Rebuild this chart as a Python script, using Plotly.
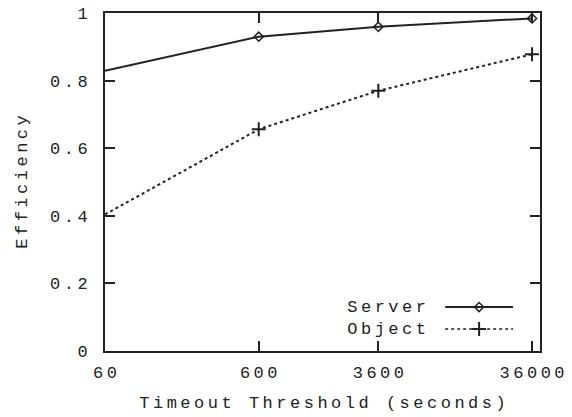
import plotly.graph_objects as go
import math

# Data
timeouts = [60, 600, 3600, 36000]
tick_labels = ["60", "600", "3600", "36000"]
server_eff = [0.829, 0.930, 0.959, 0.984]
object_eff = [0.404, 0.656, 0.770, 0.878]
y_ticks = [0, 0.2, 0.4, 0.6, 0.8, 1]
y_tick_labels = ["0", "0.2", "0.4", "0.6", "0.8", "1"]
series_names = ["Server", "Object"]

FONT = "Liberation Mono"
FS = 17
INK = "#222222"
SPACING = 3.5  # px letter spacing, to mimic the wide pixel font

fig = go.Figure()
fig.add_trace(go.Scatter(
    x=timeouts, y=server_eff, mode="lines+markers", name=series_names[0],
    line=dict(color=INK, width=2),
    marker=dict(symbol="diamond-open", size=7, color=INK, line=dict(width=1.5, color=INK)),
    showlegend=False, cliponaxis=False))
fig.add_trace(go.Scatter(
    x=timeouts, y=object_eff, mode="lines+markers", name=series_names[1],
    line=dict(color=INK, width=2, dash="dot"),
    marker=dict(symbol="cross-thin", size=10, color=INK, line=dict(width=2, color=INK)),
    showlegend=False, cliponaxis=False))

# Legend samples (drawn on an overlay axis in plot-fraction coordinates)
leg_x = [0.782, 0.86, 0.938]
fig.add_trace(go.Scatter(
    x=leg_x, y=[0.130] * 3, xaxis="x2", yaxis="y2", mode="lines",
    line=dict(color=INK, width=2), showlegend=False, hoverinfo="skip"))
fig.add_trace(go.Scatter(
    x=[leg_x[1]], y=[0.130], xaxis="x2", yaxis="y2", mode="markers",
    marker=dict(symbol="diamond-open", size=7, color=INK, line=dict(width=1.5, color=INK)),
    showlegend=False, hoverinfo="skip"))
fig.add_trace(go.Scatter(
    x=leg_x, y=[0.065] * 3, xaxis="x2", yaxis="y2", mode="lines",
    line=dict(color=INK, width=1.5, dash="dot"), showlegend=False, hoverinfo="skip"))
fig.add_trace(go.Scatter(
    x=[leg_x[1]], y=[0.065], xaxis="x2", yaxis="y2", mode="markers",
    marker=dict(symbol="cross-thin", size=10, color=INK, line=dict(width=2, color=INK)),
    showlegend=False, hoverinfo="skip"))

fig.add_annotation(x=0.722, y=0.130, xref="x2", yref="y2", text=series_names[0],
                   showarrow=False, xanchor="right", yanchor="middle",
                   font=dict(family=FONT, size=FS, color=INK))
fig.add_annotation(x=0.722, y=0.065, xref="x2", yref="y2", text=series_names[1],
                   showarrow=False, xanchor="right", yanchor="middle",
                   font=dict(family=FONT, size=FS, color=INK))

fig.update_layout(
    width=572, height=417,
    margin=dict(l=105, r=32, t=13, b=66),
    paper_bgcolor="white", plot_bgcolor="white",
    font=dict(family=FONT, size=FS, color=INK),
    xaxis=dict(
        type="log", range=[math.log10(60), 4.608],
        tickvals=timeouts, ticktext=tick_labels,
        ticks="inside", ticklen=10, tickwidth=2, tickcolor=INK,
        showline=True, linewidth=2, linecolor=INK, mirror="ticks",
        showgrid=False, zeroline=False, automargin=False,
        ticklabelstandoff=5,
        title=dict(text="Timeout Threshold (seconds)", standoff=14,
                   font=dict(family=FONT, size=FS, color=INK)),
        tickfont=dict(family=FONT, size=FS, color=INK),
    ),
    yaxis=dict(
        range=[0, 1], tickvals=y_ticks, ticktext=y_tick_labels,
        ticks="inside", ticklen=10, tickwidth=2, tickcolor=INK,
        showline=True, linewidth=2, linecolor=INK, mirror="ticks",
        showgrid=False, zeroline=False, automargin=False,
        ticklabelstandoff=12,
        title=dict(text="Efficiency", standoff=25,
                   font=dict(family=FONT, size=FS, color=INK)),
        tickfont=dict(family=FONT, size=FS, color=INK),
    ),
    xaxis2=dict(overlaying="x", range=[0, 1], visible=False, fixedrange=True),
    yaxis2=dict(overlaying="y", range=[0, 1], visible=False, fixedrange=True),
)

post = """
var gd = document.getElementById('{plot_id}');
gd.querySelectorAll('svg text').forEach(function(t){
  t.style.letterSpacing = '%gpx';
  var a = t.getAttribute('text-anchor');
  if (a === 'middle') { t.setAttribute('dx', '%g'); }
  else if (a === 'end') { t.setAttribute('dx', '%g'); }
});
""" % (SPACING, SPACING / 2, SPACING)

fig.write_html("out.html", post_script=post)
